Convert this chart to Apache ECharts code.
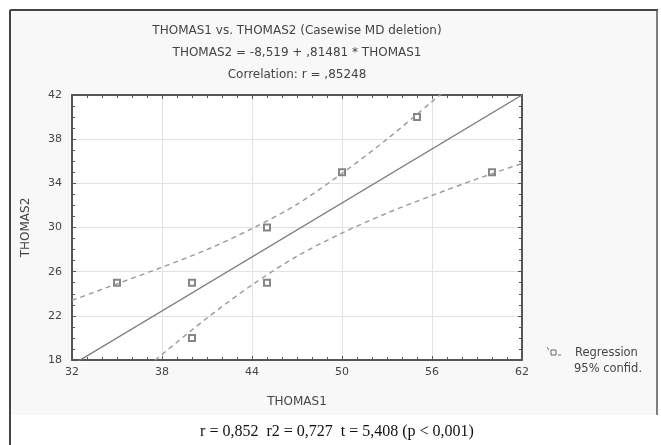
<!DOCTYPE html>
<html>
<head>
<meta charset="utf-8">
<script src="https://cdn.jsdelivr.net/npm/echarts@6/dist/echarts.min.js"></script>
<style>
  html, body { margin: 0; padding: 0; background: #fff; }
  #chart { width: 661px; height: 445px; }
</style>
</head>
<body>
<div id="chart"></div>
<script>
// observed cases (THOMAS1, THOMAS2)
const thomas1 = [35, 40, 40, 45, 45, 50, 55, 60];
const thomas2 = [25, 25, 20, 30, 25, 35, 40, 35];

// regression from the title: THOMAS2 = -8,519 + ,81481 * THOMAS1
const intercept = -8.519;
const slope = 0.81481;

// 95% confidence band
const bandX = [32, 35, 38, 41, 44, 47, 50, 53, 56, 59, 62];
const bandUpper = [23.4, 24.9, 26.4, 28.0, 29.9, 32.1, 34.9, 38.0, 41.4, 44.8, 48.2];
const bandLower = [11.7, 15.1, 18.5, 21.8, 24.8, 27.4, 29.5, 31.3, 32.9, 34.4, 35.8];

const xTicks = [32, 38, 44, 50, 56, 62];
const yTicks = [18, 22, 26, 30, 34, 38, 42];

const points = thomas1.map((x, i) => [x, thomas2[i]]);
const regLine = [xTicks[0], xTicks[xTicks.length - 1]].map(x => [x, intercept + slope * x]);
const upper = bandX.map((x, i) => [x, bandUpper[i]]);
const lower = bandX.map((x, i) => [x, bandLower[i]]);

const sans = 'DejaVu Sans, Arial, sans-serif';
const axisFont = { color: '#444', fontSize: 11, fontFamily: sans };
const nameFont = { color: '#444', fontSize: 12, fontFamily: sans };
const lineCol = '#555';

let myChart = echarts.init(document.getElementById('chart'));

const option = {
  animation: false,
  backgroundColor: '#fff',
  title: {
    text: 'THOMAS1 vs. THOMAS2 (Casewise MD deletion)\nTHOMAS2 = -8,519 + ,81481 * THOMAS1\nCorrelation: r = ,85248',
    left: 292,
    top: 15,
    textAlign: 'center',
    textStyle: { fontSize: 12, fontWeight: 'normal', color: '#444', lineHeight: 22, fontFamily: sans }
  },
  grid: { left: 72, top: 95, width: 450, height: 265, show: true, backgroundColor: '#fff', borderWidth: 0 },
  xAxis: [
    {
      type: 'value', min: 32, max: 62, interval: 6,
      name: 'THOMAS1', nameLocation: 'middle', nameGap: 36,
      nameTextStyle: nameFont,
      axisLine: { show: true, onZero: false, lineStyle: { color: lineCol, width: 2 } },
      axisTick: { inside: true, length: 4, lineStyle: { color: lineCol } },
      minorTick: { show: true, splitNumber: 6, length: 3, lineStyle: { color: lineCol } },
      axisLabel: Object.assign({ margin: 7 }, axisFont),
      splitLine: { show: true, lineStyle: { color: '#e2e2e2', width: 1 } }
    },
    {
      type: 'value', min: 32, max: 62, interval: 6, position: 'top',
      axisLine: { show: true, lineStyle: { color: lineCol, width: 2 } },
      axisTick: { inside: true, length: 4, lineStyle: { color: lineCol } },
      minorTick: { show: true, splitNumber: 6, length: 3, lineStyle: { color: lineCol } },
      axisLabel: { show: false },
      splitLine: { show: false }
    }
  ],
  yAxis: [
    {
      type: 'value', min: 18, max: 42, interval: 4,
      name: 'THOMAS2', nameLocation: 'middle', nameGap: 40, nameRotate: 90,
      nameTextStyle: nameFont,
      axisLine: { show: true, onZero: false, lineStyle: { color: lineCol, width: 2 } },
      axisTick: { inside: true, length: 4, lineStyle: { color: lineCol } },
      minorTick: { show: true, splitNumber: 4, length: 3, lineStyle: { color: lineCol } },
      axisLabel: Object.assign({ margin: 10 }, axisFont),
      splitLine: { show: true, lineStyle: { color: '#e2e2e2', width: 1 } }
    },
    {
      type: 'value', min: 18, max: 42, interval: 4, position: 'right',
      axisLine: { show: true, lineStyle: { color: lineCol, width: 2 } },
      axisTick: { inside: true, length: 4, lineStyle: { color: lineCol } },
      minorTick: { show: true, splitNumber: 4, length: 3, lineStyle: { color: lineCol } },
      axisLabel: { show: false },
      splitLine: { show: false }
    }
  ],
  series: [
    {
      name: 'Regression', type: 'line', data: regLine, showSymbol: false, clip: true,
      lineStyle: { color: '#777', width: 1.3 }
    },
    {
      name: 'upper', type: 'line', data: upper, showSymbol: false, smooth: 0.3, clip: true,
      lineStyle: { color: '#999', width: 1.4, type: [5, 4] }
    },
    {
      name: 'lower', type: 'line', data: lower, showSymbol: false, smooth: 0.3, clip: true,
      lineStyle: { color: '#999', width: 1.4, type: [5, 4] }
    },
    {
      name: 'cases', type: 'scatter', data: points, symbol: 'emptyRect', symbolSize: 6,
      itemStyle: { color: '#666', borderColor: '#666', borderWidth: 1.2 }
    }
  ],
  graphic: [
    // figure panel
    { type: 'rect', silent: true, z: -10, shape: { x: 11, y: 11, width: 646, height: 404 }, style: { fill: '#f8f8f8' } },
    { type: 'line', silent: true, shape: { x1: 10, y1: 10, x2: 658, y2: 10 }, style: { stroke: '#444', lineWidth: 2 } },
    { type: 'line', silent: true, shape: { x1: 10, y1: 10, x2: 10, y2: 445 }, style: { stroke: '#444', lineWidth: 2 } },
    { type: 'line', silent: true, shape: { x1: 657, y1: 10, x2: 657, y2: 415 }, style: { stroke: '#555', lineWidth: 1.5 } },
    // legend
    { type: 'line', silent: true, shape: { x1: 547, y1: 347, x2: 549, y2: 350 }, style: { stroke: '#777', lineWidth: 1 } },
    { type: 'rect', silent: true, shape: { x: 551, y: 350, width: 5, height: 5 }, style: { fill: 'none', stroke: '#666', lineWidth: 1 } },
    { type: 'line', silent: true, shape: { x1: 558, y1: 355, x2: 561, y2: 355 }, style: { stroke: '#777', lineWidth: 1 } },
    { type: 'text', silent: true, style: { x: 575, y: 353, text: 'Regression', fill: '#444', fontSize: 11.5, fontFamily: sans, textVerticalAlign: 'middle' } },
    { type: 'text', silent: true, style: { x: 574, y: 369, text: '95% confid.', fill: '#444', fontSize: 11.5, fontFamily: sans, textVerticalAlign: 'middle' } },
    // caption
    { type: 'text', silent: true, style: { x: 337, y: 432, text: 'r = 0,852  r2 = 0,727  t = 5,408 (p < 0,001)', fill: '#111', fontSize: 16, fontFamily: 'Liberation Serif, Times New Roman, serif', textAlign: 'center', textVerticalAlign: 'middle' } }
  ]
};

myChart.setOption(option);
window.onresize = function () {
  myChart.resize();
};
</script>
</body>
</html>
